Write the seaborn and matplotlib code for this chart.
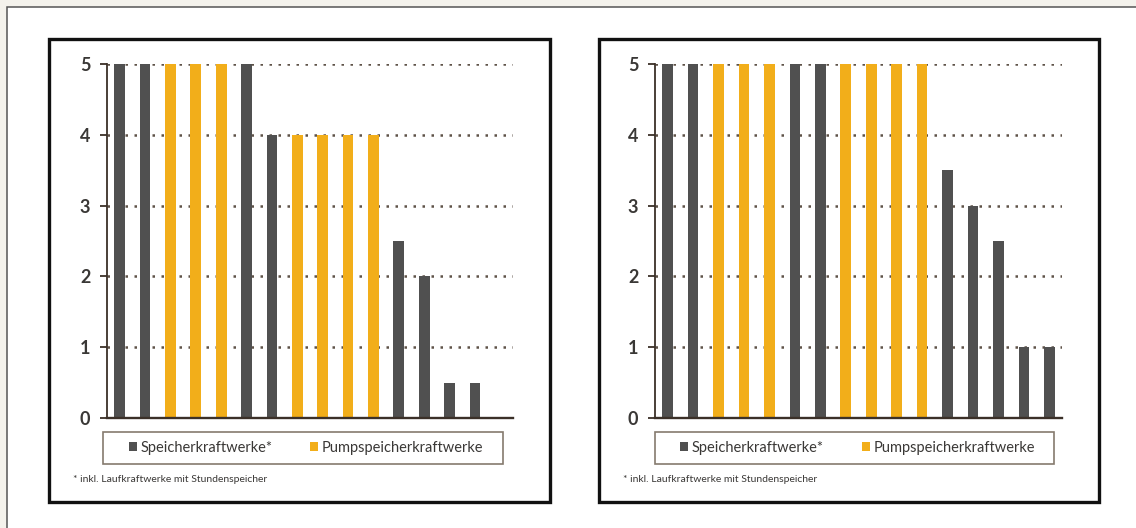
import matplotlib
matplotlib.use("Agg")
import matplotlib.pyplot as plt
from matplotlib.patches import Rectangle, Patch
import pandas as pd
import seaborn as sns

# Bar heights per slot (y scale 0-5), left to right
left_values = [5, 5, 5, 5, 5, 5, 4, 4, 4, 4, 4, 2.5, 2, 0.5, 0.5]
left_types = ["S", "S", "P", "P", "P", "S", "S", "P", "P", "P", "P", "S", "S", "S", "S"]
right_values = [5, 5, 5, 5, 5, 5, 5, 5, 5, 5, 5, 3.5, 3, 2.5, 1, 1]
right_types = ["S", "S", "P", "P", "P", "S", "S", "P", "P", "P", "P", "S", "S", "S", "S", "S"]

n_slots = 16
y_ticks = [0, 1, 2, 3, 4, 5]
series_names = {"S": "Speicherkraftwerke*", "P": "Pumpspeicherkraftwerke"}
footnote = "* inkl. Laufkraftwerke mit Stundenspeicher"

palette = {"S": "#505050", "P": "#f2ae1a"}
axis_color = "#3b3028"
grid_color = "#5e5248"
text_color = "#3a3836"

W, H = 1136, 528

sns.set_theme(style="white")
plt.rcParams["font.family"] = ["Lato", "DejaVu Sans"]

fig = plt.figure(figsize=(W / 100, H / 100), dpi=100)
fig.patch.set_facecolor("#f4f2ec")


def fx(x):
    return x / W


def fy(y):
    return (H - y) / H


# Outer page frame (only its top and left edges fall inside the canvas)
fig.add_artist(Rectangle((fx(7), fy(H + 20)), fx(W + 40), (H + 13) / H,
                         transform=fig.transFigure, facecolor="white",
                         edgecolor="#555555", lw=1.1, zorder=-5))

panels = [
    dict(values=left_values, types=left_types, panel=(49, 39, 550, 502),
         axes=(107, 64, 513, 418), legend=(103, 432, 503, 464)),
    dict(values=right_values, types=right_types, panel=(599, 39, 1099, 502),
         axes=(655, 64, 1062, 418), legend=(655, 432, 1054, 464)),
]

for p in panels:
    x0, y0, x1, y1 = p["panel"]
    fig.add_artist(Rectangle((fx(x0), fy(y1)), fx(x1 - x0), (y1 - y0) / H,
                             transform=fig.transFigure, facecolor="white",
                             edgecolor="#111111", lw=2.4, zorder=-4))

    ax0, ay0, ax1, ay1 = p["axes"]
    ax = fig.add_axes([fx(ax0), fy(ay1), fx(ax1 - ax0), (ay1 - ay0) / H])
    ax.set_facecolor("none")

    df = pd.DataFrame({
        "slot": list(range(len(p["values"]))),
        "value": p["values"],
        "type": p["types"],
    })
    sns.barplot(data=df, x="slot", y="value", hue="type", palette=palette,
                order=list(range(n_slots)), hue_order=["S", "P"], dodge=False,
                width=0.42, saturation=1, legend=False, ax=ax, zorder=3,
                linewidth=0, edgecolor="none")

    ax.set_xlim(-0.5, n_slots - 0.5)
    ax.set_ylim(0, 5)
    ax.set_yticks(y_ticks)
    ax.set_xticks([])
    ax.set_xlabel("")
    ax.set_ylabel("")

    for side in ("top", "right"):
        ax.spines[side].set_visible(False)
    ax.spines["left"].set_color(axis_color)
    ax.spines["left"].set_linewidth(1.3)
    ax.spines["bottom"].set_color(axis_color)
    ax.spines["bottom"].set_linewidth(1.7)
    for sp in ax.spines.values():
        sp.set_zorder(4)

    ax.tick_params(axis="y", direction="out", length=5, width=1.3,
                   color=axis_color, pad=7, labelsize=13,
                   labelcolor=text_color, left=True)
    for lbl in ax.get_yticklabels():
        lbl.set_fontweight("bold")

    ax.yaxis.grid(True, color=grid_color, linewidth=1.8,
                  linestyle=(0, (1, 2.6)))
    ax.set_axisbelow(True)

    # Legend box below the plot
    lx0, ly0, lx1, ly1 = p["legend"]
    fig.add_artist(Rectangle((fx(lx0), fy(ly1)), fx(lx1 - lx0), (ly1 - ly0) / H,
                             transform=fig.transFigure, facecolor="white",
                             edgecolor="#857a6e", lw=1.2, zorder=1))
    handles = [Patch(facecolor=palette[k], edgecolor="none") for k in ("S", "P")]
    labels = [series_names[k] for k in ("S", "P")]
    leg = fig.legend(handles, labels, loc="center", ncol=2, frameon=False,
                     bbox_to_anchor=(fx((lx0 + lx1) / 2 + 3), fy((ly0 + ly1) / 2)),
                     bbox_transform=fig.transFigure, fontsize=10.5,
                     handlelength=0.55, handleheight=0.55, handletextpad=0.25,
                     columnspacing=2.6, borderpad=0)
    for t in leg.get_texts():
        t.set_color(text_color)
    leg.set_zorder(2)

    fig.text(fx(x0 + 24), fy(479), footnote, fontsize=7.5, color=text_color,
             ha="left", va="center")

fig.savefig("out.png", dpi=100, facecolor=fig.get_facecolor())
